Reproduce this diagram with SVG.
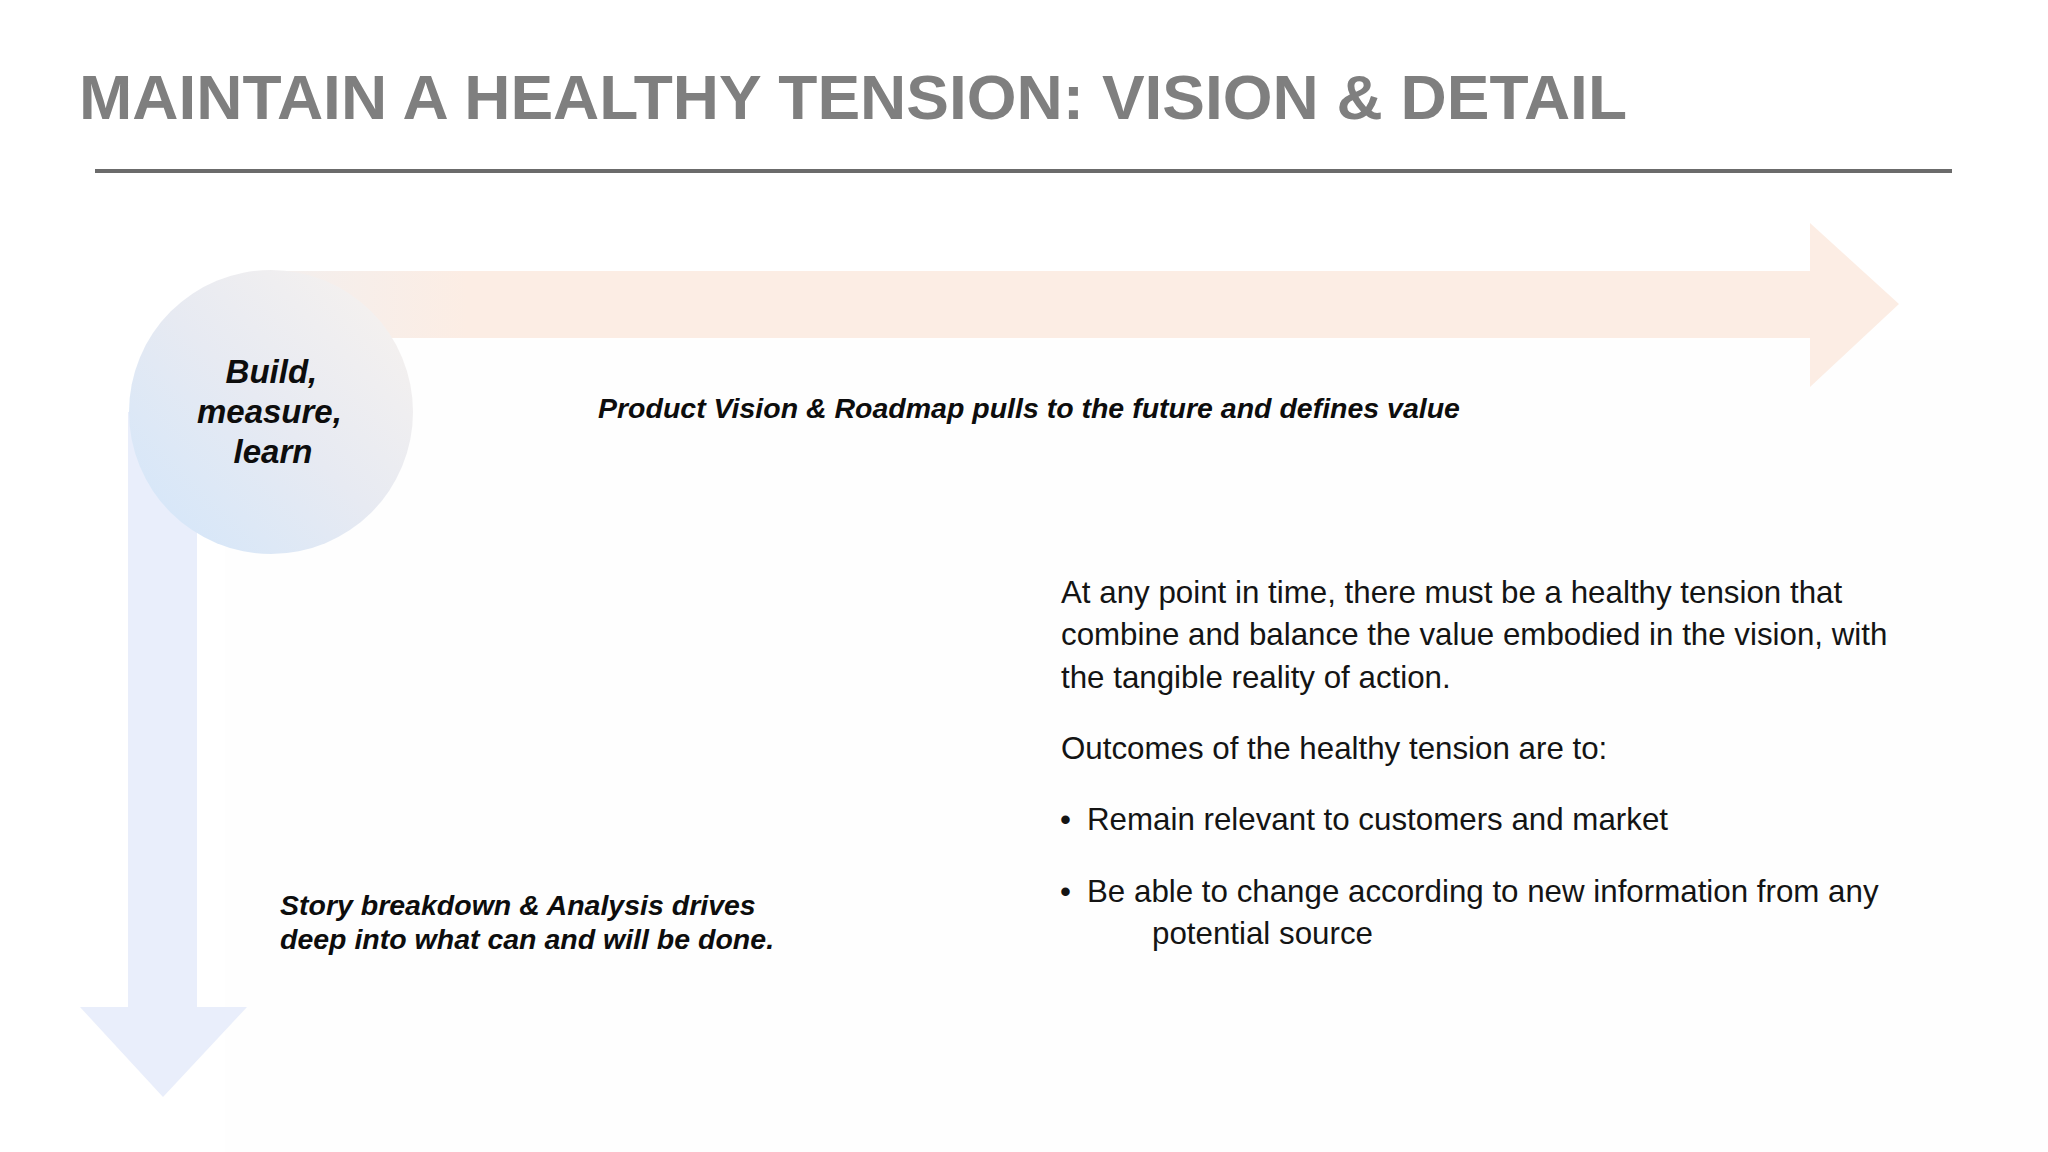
<svg xmlns="http://www.w3.org/2000/svg" width="2048" height="1152" viewBox="0 0 2048 1152">
  <defs>
    <linearGradient id="circGrad" x1="0.15" y1="0.85" x2="0.85" y2="0.15">
      <stop offset="0" stop-color="#d8e7f8"/>
      <stop offset="0.5" stop-color="#e7eaf2"/>
      <stop offset="1" stop-color="#f3f0ef"/>
    </linearGradient>
    <linearGradient id="orangeGrad" x1="0" y1="0" x2="1" y2="0">
      <stop offset="0" stop-color="#f3efee"/>
      <stop offset="0.12" stop-color="#fcede4"/>
      <stop offset="1" stop-color="#fcede4"/>
    </linearGradient>
    <style>
      .title { font-family: "Liberation Sans", Arial, sans-serif; font-weight: bold; font-size: 63px; fill: #7f7f7f; }
      .label { font-family: "Liberation Sans", Arial, sans-serif; font-weight: bold; font-style: italic; fill: #0d0d0d; }
      .body { font-family: "Liberation Sans", Arial, sans-serif; font-size: 31.3px; fill: #141414; }
    </style>
  </defs>

  <rect width="2048" height="1152" fill="#ffffff"/>
  <rect x="225" y="340" width="1823" height="812" fill="#fefefe"/>

  <text class="title" x="79" y="119" textLength="1548" lengthAdjust="spacingAndGlyphs">MAINTAIN A HEALTHY TENSION: VISION &amp; DETAIL</text>
  <line x1="95" y1="171" x2="1952" y2="171" stroke="#6b6b6b" stroke-width="4"/>

  <g id="connectors">
    <path id="arrow-vision" d="M271 271 H1810 V223 L1899 304 L1810 387 V338 H271 Z" fill="url(#orangeGrad)"/>
    <path id="arrow-detail" d="M128 412 H197 V1007 H247 L163 1097 L80 1007 H128 Z" fill="#e9eefb"/>
  </g>

  <g id="node-build">
    <circle cx="271" cy="412" r="142" fill="url(#circGrad)"/>
    <text class="label" font-size="33" text-anchor="middle">
      <tspan x="276" y="383">Build,</tspan>
      <tspan x="274" y="423">measure,</tspan>
      <tspan x="273" y="463">learn</tspan>
    </text>
  </g>

  <g id="label-vision">
    <text class="label" font-size="28.5" x="598" y="418">Product Vision &amp; Roadmap pulls to the future and defines value</text>
  </g>

  <g id="label-detail">
    <text class="label" font-size="28.5">
      <tspan x="280" y="915">Story breakdown &amp; Analysis drives</tspan>
      <tspan x="280" y="949">deep into what can and will be done.</tspan>
    </text>
  </g>

  <g id="body-text">
    <text class="body">
      <tspan x="1061" y="603">At any point in time, there must be a healthy tension that</tspan>
      <tspan x="1061" y="645">combine and balance the value embodied in the vision, with</tspan>
      <tspan x="1061" y="688">the tangible reality of action.</tspan>
      <tspan x="1061" y="759">Outcomes of the healthy tension are to:</tspan>
    </text>
    <text class="body">
      <tspan x="1060" y="830">•</tspan>
      <tspan x="1087" y="830">Remain relevant to customers and market</tspan>
      <tspan x="1060" y="902">•</tspan>
      <tspan x="1087" y="902">Be able to change according to new information from any</tspan>
      <tspan x="1152" y="944">potential source</tspan>
    </text>
  </g>
</svg>
